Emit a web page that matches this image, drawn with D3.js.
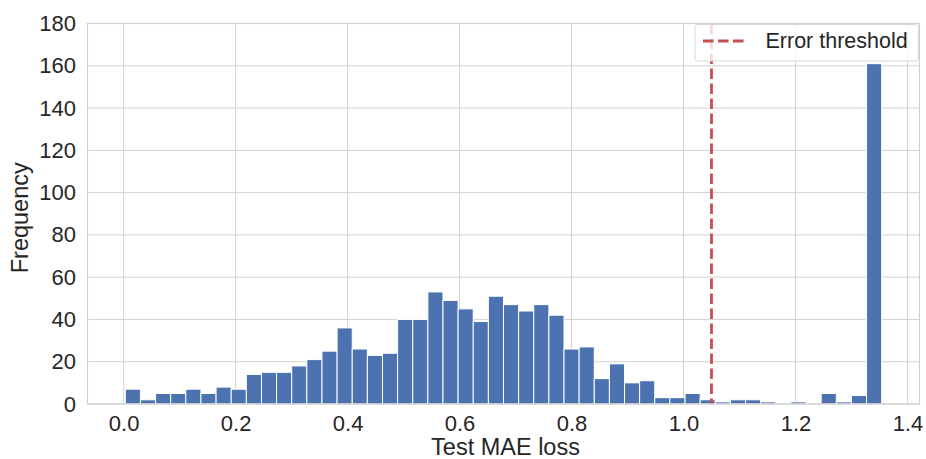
<!DOCTYPE html>
<html>
<head>
<meta charset="utf-8">
<script src="https://cdn.jsdelivr.net/npm/d3@7"></script>
<style>
  html, body { margin: 0; padding: 0; background: #ffffff; }
  svg { display: block; }
  text { font-family: "Liberation Sans", Arial, sans-serif; fill: #262626; }
</style>
</head>
<body>
<svg id="chart" width="926" height="459"></svg>
<script>
// Histogram of per-sample test MAE loss (50 equal-width bins)
const lossMin = 0.003;
const lossMax = 1.354;
const binCounts = [
  7, 2, 5, 5, 7, 5, 8, 7, 14, 15,
  15, 18, 21, 25, 36, 26, 23, 24, 40, 40,
  53, 49, 45, 39, 51, 47, 44, 47, 42, 26,
  27, 12, 19, 10, 11, 3, 3, 5, 2, 1,
  2, 2, 1, 0, 1, 0, 5, 1, 4, 161
];
const threshold = 1.05;
const xTicks = [0.0, 0.2, 0.4, 0.6, 0.8, 1.0, 1.2, 1.4];
const yTicks = [0, 20, 40, 60, 80, 100, 120, 140, 160, 180];

const svg = d3.select("#chart");
const plot = { left: 87.5, right: 919.5, top: 23.5, bottom: 404 };

const span = lossMax - lossMin;
const x = d3.scaleLinear()
  .domain([lossMin - 0.05 * span, lossMax + 0.05 * span])
  .range([plot.left, plot.right]);
const y = d3.scaleLinear().domain([0, 180]).range([plot.bottom, plot.top]);

const binW = span / binCounts.length;
const bins = binCounts.map((c, i) => ({
  x0: lossMin + i * binW,
  x1: lossMin + (i + 1) * binW,
  count: c
}));

// grid
const grid = svg.append("g");
grid.selectAll(".gx").data(xTicks).join("line")
  .attr("x1", d => x(d)).attr("x2", d => x(d))
  .attr("y1", plot.top).attr("y2", plot.bottom)
  .attr("stroke", "#d3d3d3").attr("stroke-width", 1);
grid.selectAll(".gy").data(yTicks).join("line")
  .attr("x1", plot.left).attr("x2", plot.right)
  .attr("y1", d => y(d)).attr("y2", d => y(d))
  .attr("stroke", "#d3d3d3").attr("stroke-width", 1);

// bars
svg.append("g").selectAll("rect").data(bins.filter(b => b.count > 0)).join("rect")
  .attr("x", d => x(d.x0))
  .attr("width", d => x(d.x1) - x(d.x0))
  .attr("y", d => y(d.count))
  .attr("height", d => y(0) - y(d.count))
  .attr("fill", "#4c72b0")
  .attr("stroke", "#ffffff")
  .attr("stroke-width", 1);

// threshold line
svg.append("line")
  .attr("x1", x(threshold)).attr("x2", x(threshold))
  .attr("y1", plot.top).attr("y2", plot.bottom)
  .attr("stroke", "#c44e52").attr("stroke-width", 2.8)
  .attr("stroke-dasharray", "10.5,4.5");

// frame
svg.append("rect")
  .attr("x", plot.left).attr("y", plot.top)
  .attr("width", plot.right - plot.left).attr("height", plot.bottom - plot.top)
  .attr("fill", "none").attr("stroke", "#d0d0d0").attr("stroke-width", 1.2);

// axes (labels only, whitegrid style has no tick marks)
const tickFont = 22;
const xAxis = svg.append("g")
  .attr("transform", `translate(0,${plot.bottom})`)
  .call(d3.axisBottom(x).tickValues(xTicks).tickFormat(d3.format(".1f")).tickSize(0).tickPadding(11.5));
const yAxis = svg.append("g")
  .attr("transform", `translate(${plot.left},0)`)
  .call(d3.axisLeft(y).tickValues(yTicks).tickSize(0).tickPadding(11.5));
[xAxis, yAxis].forEach(a => {
  a.select(".domain").remove();
  a.selectAll("text").attr("font-size", tickFont).attr("fill", "#262626")
    .attr("font-family", "'Liberation Sans', Arial, sans-serif");
});

// axis titles
svg.append("text")
  .attr("x", (plot.left + plot.right) / 2 + 2).attr("y", 455)
  .attr("text-anchor", "middle").attr("font-size", 23.5)
  .text("Test MAE loss");
svg.append("text")
  .attr("transform", `translate(28,${(plot.top + plot.bottom) / 2 + 4}) rotate(-90)`)
  .attr("text-anchor", "middle").attr("font-size", 23.5)
  .text("Frequency");

// legend
const lg = svg.append("g");
lg.append("rect")
  .attr("x", 695).attr("y", 24.5).attr("width", 223.5).attr("height", 36.5)
  .attr("rx", 3).attr("fill", "#ffffff").attr("fill-opacity", 0.8)
  .attr("stroke", "#d8d8d8").attr("stroke-width", 1);
lg.append("line")
  .attr("x1", 703).attr("x2", 747).attr("y1", 41).attr("y2", 41)
  .attr("stroke", "#c44e52").attr("stroke-width", 2.8)
  .attr("stroke-dasharray", "10.5,4.5");
lg.append("text")
  .attr("x", 765.5).attr("y", 48.3).attr("font-size", 21.5)
  .text("Error threshold");
</script>
</body>
</html>
